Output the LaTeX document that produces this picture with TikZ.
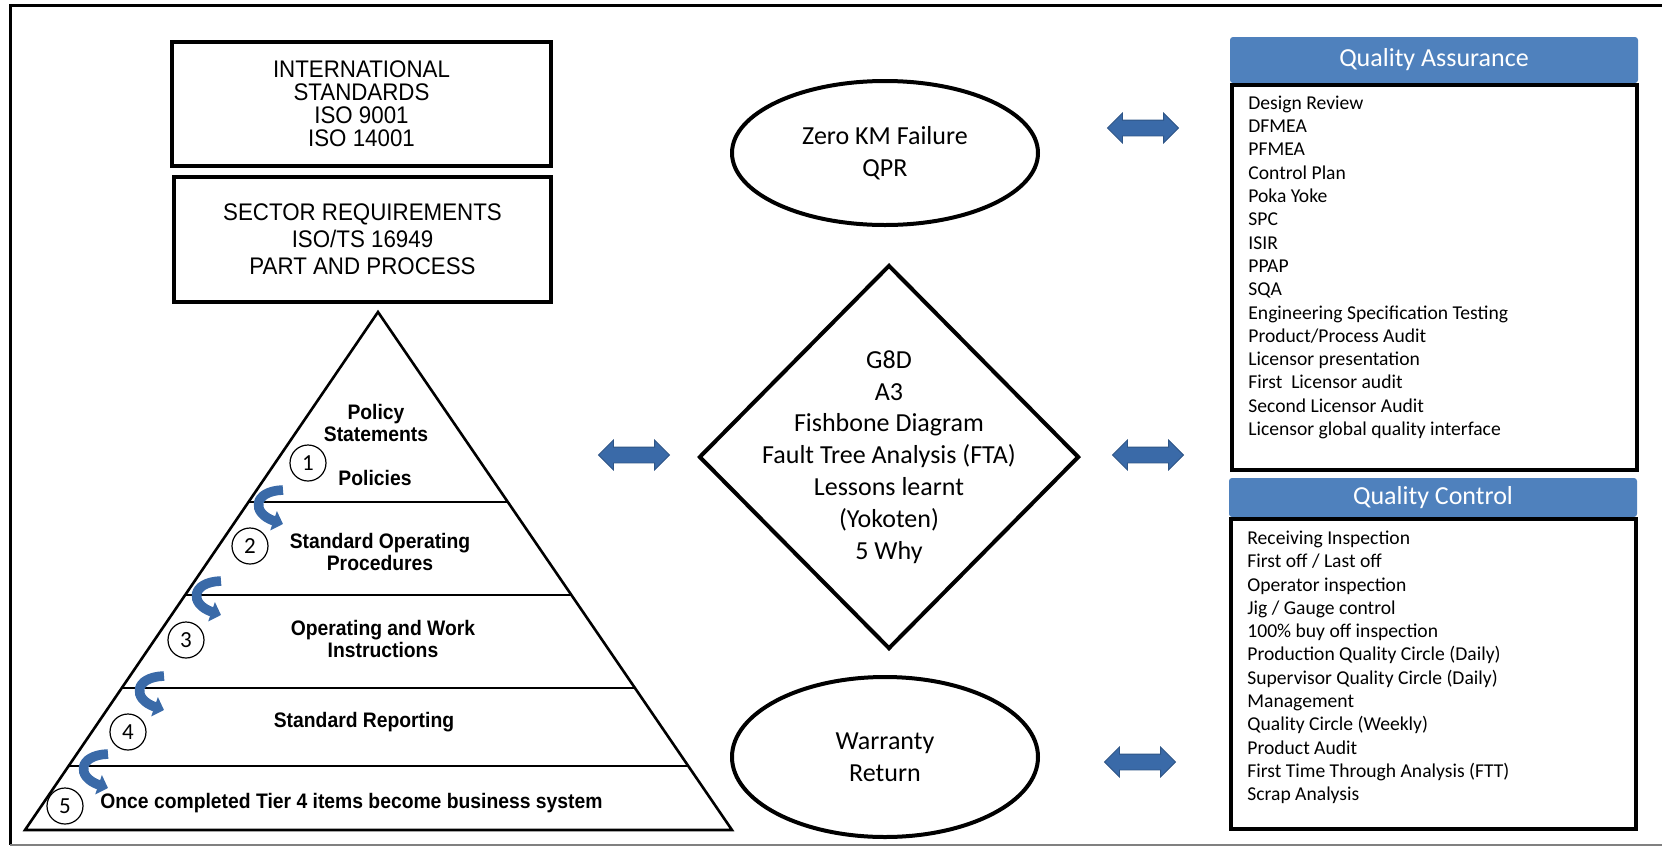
\documentclass[tikz,border=0pt]{standalone}
\usepackage{fontspec}
\setmainfont{Carlito}
\newfontfamily\arialfont[FakeStretch=0.93]{Liberation Sans}
\newfontfamily\tierfont[FakeStretch=0.92]{Liberation Sans}
\usetikzlibrary{shapes.geometric,shapes.arrows,arrows.meta}
\definecolor{headblue}{RGB}{79,129,189}
\definecolor{arrowblue}{RGB}{58,106,168}

\begin{document}
\begin{tikzpicture}[x=0.5pt,y=-0.5pt,
		stdbox/.style={draw,line width=2.3pt,minimum width=189.5pt,minimum height=62pt,inner sep=0pt,align=center,font=\arialfont\fontsize{12}{11.5}\selectfont},
		tier/.style={align=center,inner sep=0pt,font=\tierfont\bfseries\fontsize{10.5}{10.8}\selectfont},
		numcirc/.style={draw,circle,line width=0.6pt,minimum size=18pt,inner sep=0pt,font=\fontsize{11.5}{11.5}\selectfont},
		bendarrow/.style={arrowblue,line width=4.8pt,-{Triangle[width=10pt,length=5pt]}},
		oval/.style={draw,ellipse,line width=2pt,minimum width=153pt,inner sep=0pt,align=center,font=\fontsize{13}{16}\selectfont},
		fatarrow/.style={double arrow,fill=arrowblue,draw=arrowblue!80!black,line width=0.4pt,minimum height=35.5pt,inner xsep=0pt,inner ysep=3.75pt,double arrow head extend=3.5pt},
		panelhead/.style={fill=headblue,rounded corners=1.5pt,minimum width=204pt,inner sep=0pt,text=white,font=\fontsize{13}{13}\selectfont},
		listbox/.style={draw,line width=2pt,minimum width=202.5pt,inner sep=0pt},
		items/.style={align=left,anchor=north west,inner sep=0pt,font=\fontsize{9.8}{11.65}\selectfont}]
	\useasboundingbox (0,0) rectangle (1662,847);
	\draw[line width=1.5pt] (1662,5) -- (10,5) -- (10,845);%frame
	\draw[gray,line width=1pt] (10,845) -- (1662,845);

	% standards
	\node[stdbox] (intl) at (361.5,104) {INTERNATIONAL\\STANDARDS\\ISO 9001\\ISO 14001};
	\node[stdbox,minimum width=188.5pt,minimum height=62.5pt,font=\arialfont\fontsize{12}{13.5}\selectfont] (sector) at (362.5,239.5) {SECTOR REQUIREMENTS\\ISO/TS 16949\\PART AND PROCESS};

	% pyramid
	\coordinate (apex) at (378,312);
	\coordinate (bl) at (25,830);
	\coordinate (br) at (732,830);
	\draw[line width=1.3pt] (apex) -- (bl) -- (br) -- cycle;
	\draw[line width=0.8pt] (248.5,502) -- (508.5,502);
	\draw[line width=0.8pt] (185.2,595) -- (571.8,595);
	\draw[line width=0.8pt] (121.8,688) -- (635.2,688);
	\draw[line width=0.8pt] (68.6,766) -- (688.4,766);
	\node[tier] (policy) at (376,423) {Policy\\Statements};
	\node[tier] (policies) at (375,478) {Policies};
	\node[tier] (sop) at (380,552) {Standard Operating\\Procedures};
	\node[tier] (work) at (383,639) {Operating and Work\\Instructions};
	\node[tier] (report) at (364,722) {Standard Reporting};
	\node[tier,anchor=west] (system) at (100,803) {Once completed Tier 4 items become business system};
	\node[numcirc] (n1) at (308,463) {1};
	\node[numcirc] (n2) at (250,546) {2};
	\node[numcirc] (n3) at (186,640) {3};
	\node[numcirc] (n4) at (128,732) {4};
	\node[numcirc] (n5) at (65,806) {5};
	\begin{scope}[shift={(257,507)}]
		\draw[bendarrow] (26,-17) .. controls (-4,-16) and (-6,6) .. (26,17);
	\end{scope}
	\begin{scope}[shift={(195,598)}]
		\draw[bendarrow] (26,-17) .. controls (-4,-16) and (-6,6) .. (26,17);
	\end{scope}
	\begin{scope}[shift={(138,693)}]
		\draw[bendarrow] (26,-17) .. controls (-4,-16) and (-6,6) .. (26,17);
	\end{scope}
	\begin{scope}[shift={(82,771)}]
		\draw[bendarrow] (26,-17) .. controls (-4,-16) and (-6,6) .. (26,17);
	\end{scope}

	% tools in the middle
	\node[oval,minimum height=72pt] (zero) at (885,153) {Zero KM Failure\\QPR};
	\node[diamond,draw,line width=2pt,minimum width=190pt,minimum height=192pt,inner sep=0pt] (tools) at (889,457) {};
	\node[align=center,inner sep=0pt,font=\fontsize{13}{15.9}\selectfont] (toolstext) at (tools.center) {G8D\\A3\\Fishbone Diagram\\Fault Tree Analysis (FTA)\\Lessons learnt\\(Yokoten)\\5 Why};
	\node[oval,minimum height=80pt] (warranty) at (885,757) {Warranty\\Return};
	\node[fatarrow] (la) at (634,455) {};
	\node[fatarrow] (ra1) at (1143,128) {};
	\node[fatarrow] (ra2) at (1148,455) {};
	\node[fatarrow] (ra3) at (1140,762) {};

	% panels
	\node[panelhead,minimum height=23pt] (qahead) at (1434,60) {Quality Assurance};
	\node[listbox,minimum height=192.5pt,anchor=north] (qabox) at (1434.5,83) {};
	\node[items] (qalist) at (1248,95.5) {Design Review\\DFMEA\\PFMEA\\Control Plan\\Poka Yoke\\SPC\\ISIR\\PPAP\\SQA\\Engineering Specification Testing\\Product/Process Audit\\Licensor presentation\\First\ \ Licensor audit\\Second Licensor Audit\\Licensor global quality interface};
	\node[panelhead,minimum height=19.5pt] (qchead) at (1433,497.5) {Quality Control};
	\node[listbox,minimum height=155pt,anchor=north] (qcbox) at (1433.5,517) {};
	\node[items] (qclist) at (1247,530.5) {Receiving Inspection\\First off / Last off\\Operator inspection\\Jig / Gauge control\\100\% buy off inspection\\Production Quality Circle (Daily)\\Supervisor Quality Circle (Daily)\\Management\\Quality Circle (Weekly)\\Product Audit\\First Time Through Analysis (FTT)\\Scrap Analysis};
\end{tikzpicture}
\end{document}
